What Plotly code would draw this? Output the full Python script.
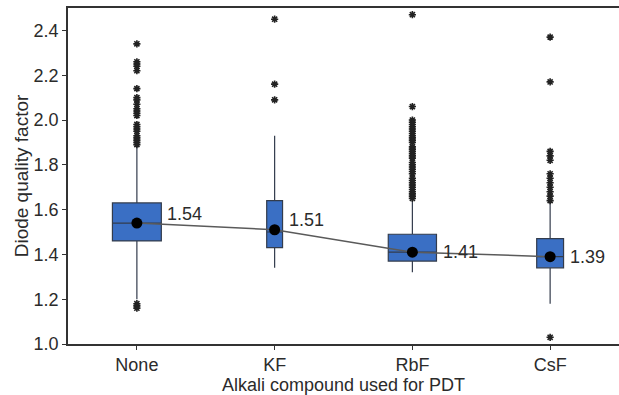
import plotly.graph_objects as go

categories = ["None", "KF", "RbF", "CsF"]
q1 = [1.46, 1.43, 1.37, 1.34]
median = [1.54, 1.50, 1.41, 1.39]
q3 = [1.63, 1.64, 1.49, 1.47]
lowerfence = [1.20, 1.34, 1.32, 1.18]
upperfence = [1.88, 1.93, 1.64, 1.63]
means = [1.54, 1.51, 1.41, 1.39]
box_widths = [0.355, 0.115, 0.35, 0.195]
label_yshift = [9, 10, 0, 0]

outliers_none = [2.34, 2.26, 2.25, 2.24, 2.22, 2.14, 2.10, 2.09, 2.07, 2.05, 2.04, 2.03,
                 2.02, 1.98, 1.97, 1.96, 1.95, 1.93, 1.92, 1.91, 1.90, 1.89, 1.18, 1.17, 1.16]
outliers_kf = [2.45, 2.16, 2.09]
outliers_rbf = [2.47, 2.06, 2.00, 1.99, 1.98, 1.97, 1.96, 1.95, 1.94, 1.93, 1.92, 1.91, 1.90,
                1.88, 1.87, 1.86, 1.85, 1.84, 1.83, 1.81, 1.80, 1.79, 1.78, 1.77, 1.76,
                1.74, 1.73, 1.72, 1.71, 1.70, 1.69, 1.68, 1.67, 1.66, 1.65]
outliers_csf = [2.37, 2.17, 1.86, 1.84, 1.82, 1.76, 1.74, 1.72, 1.70, 1.68, 1.66, 1.64, 1.03]
outliers = [outliers_none, outliers_kf, outliers_rbf, outliers_csf]

FONT = "Liberation Sans, Arial, sans-serif"
TXT = "#2b2b2b"
fig = go.Figure()

for i, cat in enumerate(categories):
    fig.add_trace(go.Box(
        x=[cat], q1=[q1[i]], median=[median[i]], q3=[q3[i]],
        lowerfence=[lowerfence[i]], upperfence=[upperfence[i]],
        width=box_widths[i], boxpoints=False, whiskerwidth=0,
        fillcolor="#3a6fc4", line=dict(color="#333c4c", width=1.2),
        showlegend=False, hoverinfo="skip",
    ))

for i, cat in enumerate(categories):
    fig.add_trace(go.Scatter(
        x=[cat] * len(outliers[i]), y=outliers[i], mode="markers",
        marker=dict(symbol="asterisk-open", size=6, color="#222",
                    line=dict(color="#222", width=1.6)),
        showlegend=False, hoverinfo="skip",
    ))

fig.add_trace(go.Scatter(
    x=categories, y=means, mode="lines+markers",
    line=dict(color="#5a5a5a", width=1.5),
    marker=dict(color="black", size=11),
    showlegend=False, hoverinfo="skip",
))

for i, cat in enumerate(categories):
    fig.add_annotation(
        x=i + box_widths[i] / 2 + 0.03, y=means[i], text=f"{means[i]:.2f}",
        xanchor="left", yanchor="middle", showarrow=False, yshift=label_yshift[i],
        font=dict(family=FONT, size=18, color=TXT),
    )

fig.update_layout(
    width=619, height=395,
    margin=dict(l=68, r=0, t=8, b=51),
    paper_bgcolor="white", plot_bgcolor="white",
    boxmode="overlay",
    font=dict(family=FONT, size=18, color=TXT),
)
fig.update_xaxes(
    type="category", range=[-0.5, 3.5],
    showline=True, linecolor="#333", linewidth=1.5, mirror=True,
    ticks="outside", ticklen=4, tickcolor="#333", showgrid=False,
    title=dict(text="Alkali compound used for PDT", standoff=0,
               font=dict(size=18, color=TXT)),
    tickfont=dict(size=18, color=TXT),
)
fig.update_yaxes(
    range=[1.0, 2.5], tickvals=[1.0, 1.2, 1.4, 1.6, 1.8, 2.0, 2.2, 2.4],
    ticktext=["1.0", "1.2", "1.4", "1.6", "1.8", "2.0", "2.2", "2.4"],
    showline=True, linecolor="#333", linewidth=1.5,
    ticks="outside", ticklen=4, tickcolor="#333", showgrid=False, zeroline=False,
    title=dict(text="Diode quality factor", standoff=0, font=dict(size=19, color=TXT)),
    tickfont=dict(size=18, color=TXT),
)

fig.write_html("out.html")
